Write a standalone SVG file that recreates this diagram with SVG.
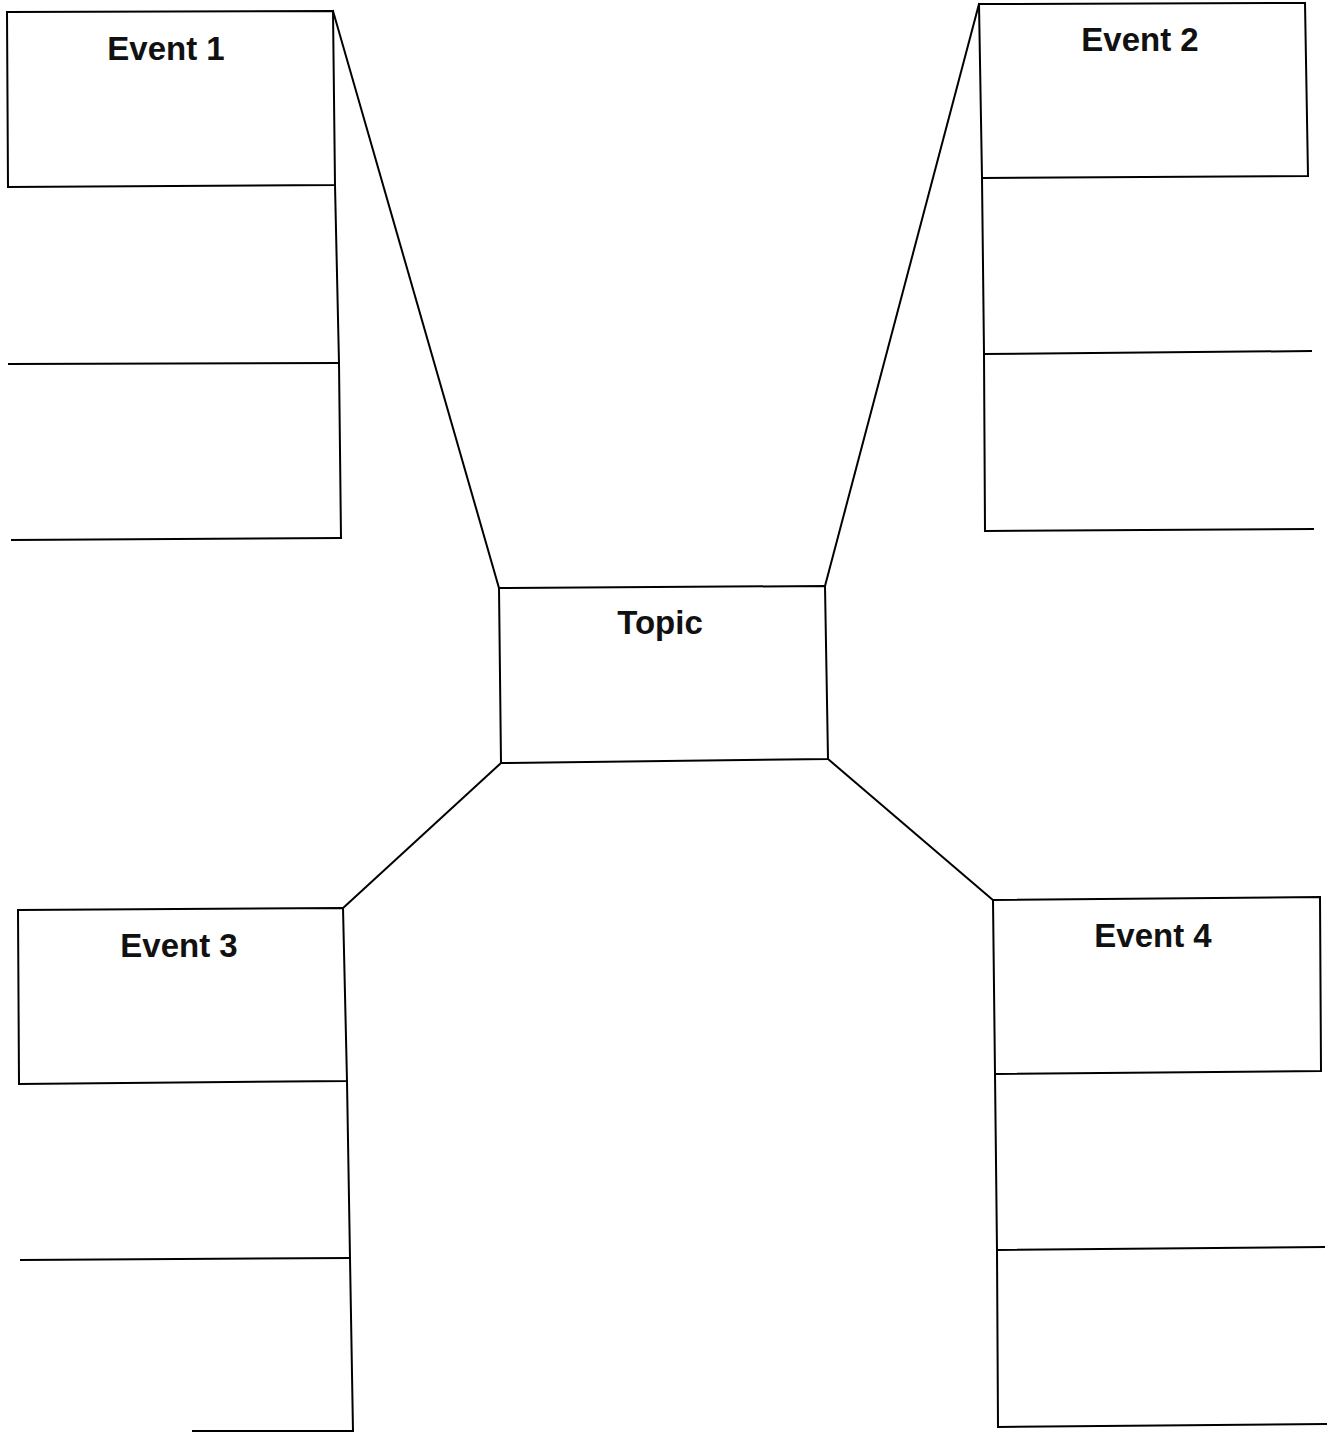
<svg xmlns="http://www.w3.org/2000/svg" width="1328" height="1433" viewBox="0 0 1328 1433">
<style>
.ln{fill:none;stroke:#000;stroke-width:2;stroke-linejoin:miter;stroke-linecap:square}
.lbl{font-family:"Liberation Sans",Arial,sans-serif;font-weight:bold;font-size:33px;fill:#111;text-anchor:middle}
</style>
<rect width="1328" height="1433" fill="#fff"/>
<g id="connectors">
<path class="ln" d="M333,11 L499,588"/>
<path class="ln" d="M979,4 L825,586"/>
<path class="ln" d="M501,763 L343,908"/>
<path class="ln" d="M828,759 L993,900"/>
</g>
<g id="event1">
<path class="ln" d="M8,187 L7,12 L333,11 L335,185 Z"/>
<path class="ln" d="M335,185 L339,363 L341,538"/>
<path class="ln" d="M9,364 L339,363"/>
<path class="ln" d="M12,540 L341,538"/>
<text class="lbl" x="166" y="60">Event 1</text>
</g>
<g id="event2">
<path class="ln" d="M979,4 L1305,3 L1308,176 L982,178 Z"/>
<path class="ln" d="M982,178 L984,353 L985,531"/>
<path class="ln" d="M984,354 L1311,351"/>
<path class="ln" d="M985,531 L1313,529"/>
<text class="lbl" x="1140" y="51">Event 2</text>
</g>
<g id="topic">
<path class="ln" d="M499,588 L825,586 L828,759 L501,763 Z"/>
<text class="lbl" x="660" y="634">Topic</text>
</g>
<g id="event3">
<path class="ln" d="M18,910 L343,908 L347,1081 L19,1084 Z"/>
<path class="ln" d="M347,1081 L350,1258 L353,1431"/>
<path class="ln" d="M21,1260 L350,1258"/>
<path class="ln" d="M193,1431 L353,1431"/>
<text class="lbl" x="179" y="957">Event 3</text>
</g>
<g id="event4">
<path class="ln" d="M993,900 L1320,897 L1321,1071 L995,1074 Z"/>
<path class="ln" d="M995,1074 L997,1250 L998,1427"/>
<path class="ln" d="M997,1250 L1324,1247"/>
<path class="ln" d="M998,1427 L1326,1424"/>
<text class="lbl" x="1153" y="947">Event 4</text>
</g>
</svg>
